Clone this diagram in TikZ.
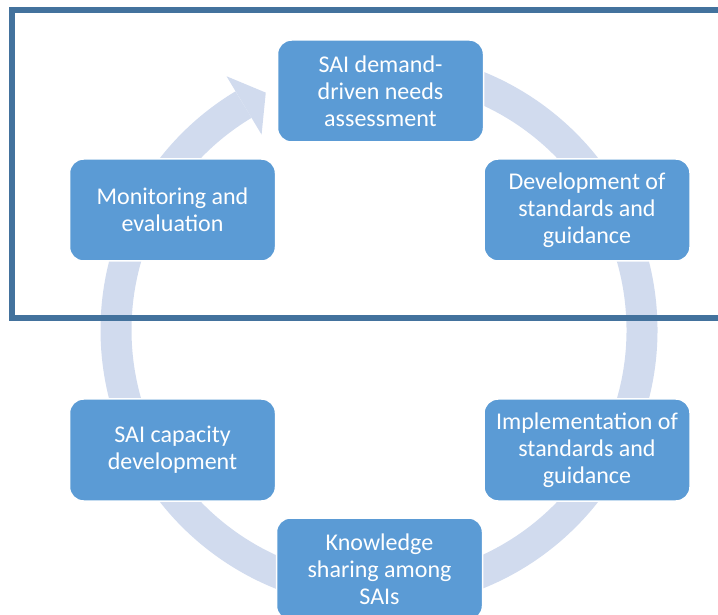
\documentclass[tikz,border=0pt]{standalone}
\usepackage{fontspec}
\setmainfont{Carlito}
\usetikzlibrary{calc}
\definecolor{boxblue}{RGB}{91,155,213}
\definecolor{ringblue}{RGB}{209,219,238}
\definecolor{framec}{RGB}{67,114,157}
\begin{document}
\begin{tikzpicture}[x=1pt,y=1pt,
  stage/.style={rectangle, rounded corners=14pt, fill=boxblue, draw=white, line width=1.5pt,
    minimum width=206pt, minimum height=102pt, text=white, align=center,
    font=\fontsize{24}{27}\selectfont, inner sep=0pt},
  ring/.style={draw=ringblue, line width=31pt},
  frameline/.style={draw=framec, line width=6pt}]
\useasboundingbox (0,0) rectangle (718,614);
\clip (0,0) rectangle (718,614);
\coordinate (C) at (379,284);
% cycle ring with arrow head
\draw[ring] (C) ++(95:263) arc[start angle=95,end angle=-239,radius=263];
\fill[ringblue] ($(C)+(121:228)$) -- ($(C)+(121:296)$) -- ($(C)+(115.5:263)$) -- cycle;
% stages
\node[stage] (needs) at (380.5,523) {SAI demand-\\driven needs\\assessment};
\node[stage] (dev) at (587,404) {Development of\\standards and\\guidance};
\node[stage] (impl) at (587,164) {Implementation of\\standards and\\guidance};
\node[stage] (know) at (379.5,45) {Knowledge\\sharing among\\SAIs};
\node[stage] (cap) at (172.5,164) {SAI capacity\\development};
\node[stage] (mon) at (172.5,404) {Monitoring and\\evaluation};
% frame
\draw[frameline] (12,604) rectangle (760,296);
\end{tikzpicture}
\end{document}
